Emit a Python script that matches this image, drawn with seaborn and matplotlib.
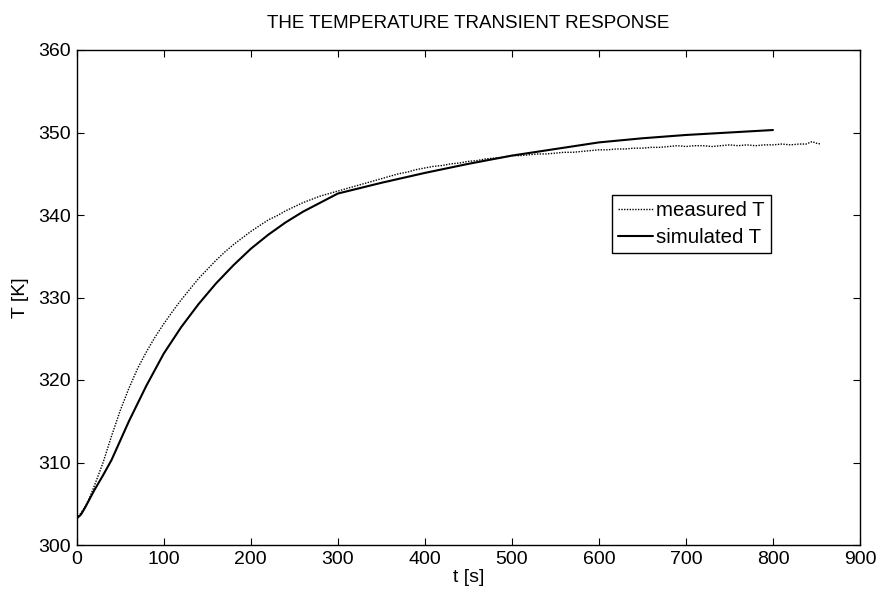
import numpy as np
import pandas as pd
import matplotlib
matplotlib.use("Agg")
import matplotlib.pyplot as plt
import seaborn as sns

# ---- data ----
t_meas = [0, 5, 10, 15, 20, 25, 30, 40, 50, 60, 70, 80, 90, 100, 110, 120, 130, 140,
          150, 160, 170, 180, 190, 200, 210, 220, 230, 240, 250, 260, 270, 280, 290,
          300, 310, 320, 330, 340, 350, 360, 370, 380, 390, 400, 410, 420, 430, 440,
          450, 460, 470, 480, 490, 500, 510, 520, 530, 540, 550, 560, 570, 580, 590,
          600, 610, 620, 630, 640, 650, 660, 670, 680, 690, 700, 710, 720, 730, 740,
          750, 760, 770, 780, 790, 800, 810, 820, 830, 838, 845, 850, 855]
T_meas = [303.2, 303.9, 304.7, 305.8, 307.1, 308.5, 309.9, 313.2, 316.3, 319.0, 321.4,
          323.4, 325.2, 326.8, 328.3, 329.7, 331.0, 332.3, 333.4, 334.5, 335.5, 336.4,
          337.2, 338.0, 338.7, 339.4, 339.9, 340.5, 341.0, 341.5, 341.9, 342.3, 342.6,
          342.9, 343.2, 343.5, 343.8, 344.1, 344.4, 344.7, 345.0, 345.2, 345.5, 345.7,
          345.9, 346.0, 346.2, 346.3, 346.5, 346.6, 346.8, 346.9, 347.0, 347.2, 347.2,
          347.3, 347.4, 347.4, 347.5, 347.6, 347.6, 347.7, 347.8, 347.9, 347.9, 348.0,
          348.0, 348.1, 348.1, 348.2, 348.2, 348.3, 348.4, 348.3, 348.4, 348.4, 348.3,
          348.4, 348.5, 348.4, 348.5, 348.4, 348.5, 348.5, 348.6, 348.5, 348.6, 348.6,
          348.9, 348.7, 348.6]

t_sim = [0, 5, 10, 20, 30, 40, 60, 80, 100, 120, 140, 160, 180, 200, 220, 240, 260,
         280, 300, 350, 400, 450, 500, 550, 600, 650, 700, 750, 800]
T_sim = [303.2, 303.7, 304.6, 306.6, 308.4, 310.3, 315.0, 319.3, 323.2, 326.4, 329.2,
         331.7, 333.9, 335.9, 337.6, 339.1, 340.4, 341.5, 342.6, 343.9, 345.1, 346.2,
         347.2, 348.0, 348.8, 349.3, 349.7, 350.0, 350.3]

x_ticks = [0, 100, 200, 300, 400, 500, 600, 700, 800, 900]
y_ticks = [300, 310, 320, 330, 340, 350, 360]

df_meas = pd.DataFrame({"t": t_meas, "T": T_meas})
df_sim = pd.DataFrame({"t": t_sim, "T": T_sim})

sns.set_theme(style="ticks")
plt.rcParams["font.family"] = ["Liberation Sans", "DejaVu Sans"]
plt.rcParams["xtick.direction"] = "in"
plt.rcParams["ytick.direction"] = "in"
plt.rcParams["text.color"] = "black"
plt.rcParams["axes.labelcolor"] = "black"

fig = plt.figure(figsize=(8.8, 5.97), dpi=100)
ax = fig.add_axes([76.7 / 880, 1 - 545 / 597, (860 - 76.7) / 880, (545 - 50) / 597])

sns.lineplot(data=df_meas, x="t", y="T", ax=ax, color="black", linewidth=1.0,
             label="measured T", dashes=False)
ax.lines[-1].set_dashes((1, 1))
sns.lineplot(data=df_sim, x="t", y="T", ax=ax, color="black", linewidth=1.5,
             label="simulated T")

ax.set_xlim(0, 900)
ax.set_ylim(300, 360)
ax.set_xticks(x_ticks)
ax.set_yticks(y_ticks)
ax.tick_params(axis="both", labelsize=14, length=5, width=0.8, colors="black",
               labelcolor="black", top=True, right=True, pad=4)
for s in ax.spines.values():
    s.set_visible(True)
    s.set_color("black")
    s.set_linewidth(1.0)

ax.set_xlabel("t [s]", fontsize=14, labelpad=1, color="black")
ax.set_ylabel("T [K]", fontsize=14, labelpad=7, color="black")
ax.set_title("THE TEMPERATURE TRANSIENT RESPONSE", fontsize=13.5, pad=15.5,
             color="black")

leg = ax.legend(loc="upper right", bbox_to_anchor=(0.886, 0.707), fontsize=14.7,
                frameon=True, fancybox=False, framealpha=1, edgecolor="black",
                borderpad=0.3, handlelength=1.7, handletextpad=0.15,
                labelspacing=0.4, borderaxespad=0)
leg.get_frame().set_linewidth(1.0)
for txt in leg.get_texts():
    txt.set_color("black")

fig.savefig("out.png", dpi=100, facecolor="white")
